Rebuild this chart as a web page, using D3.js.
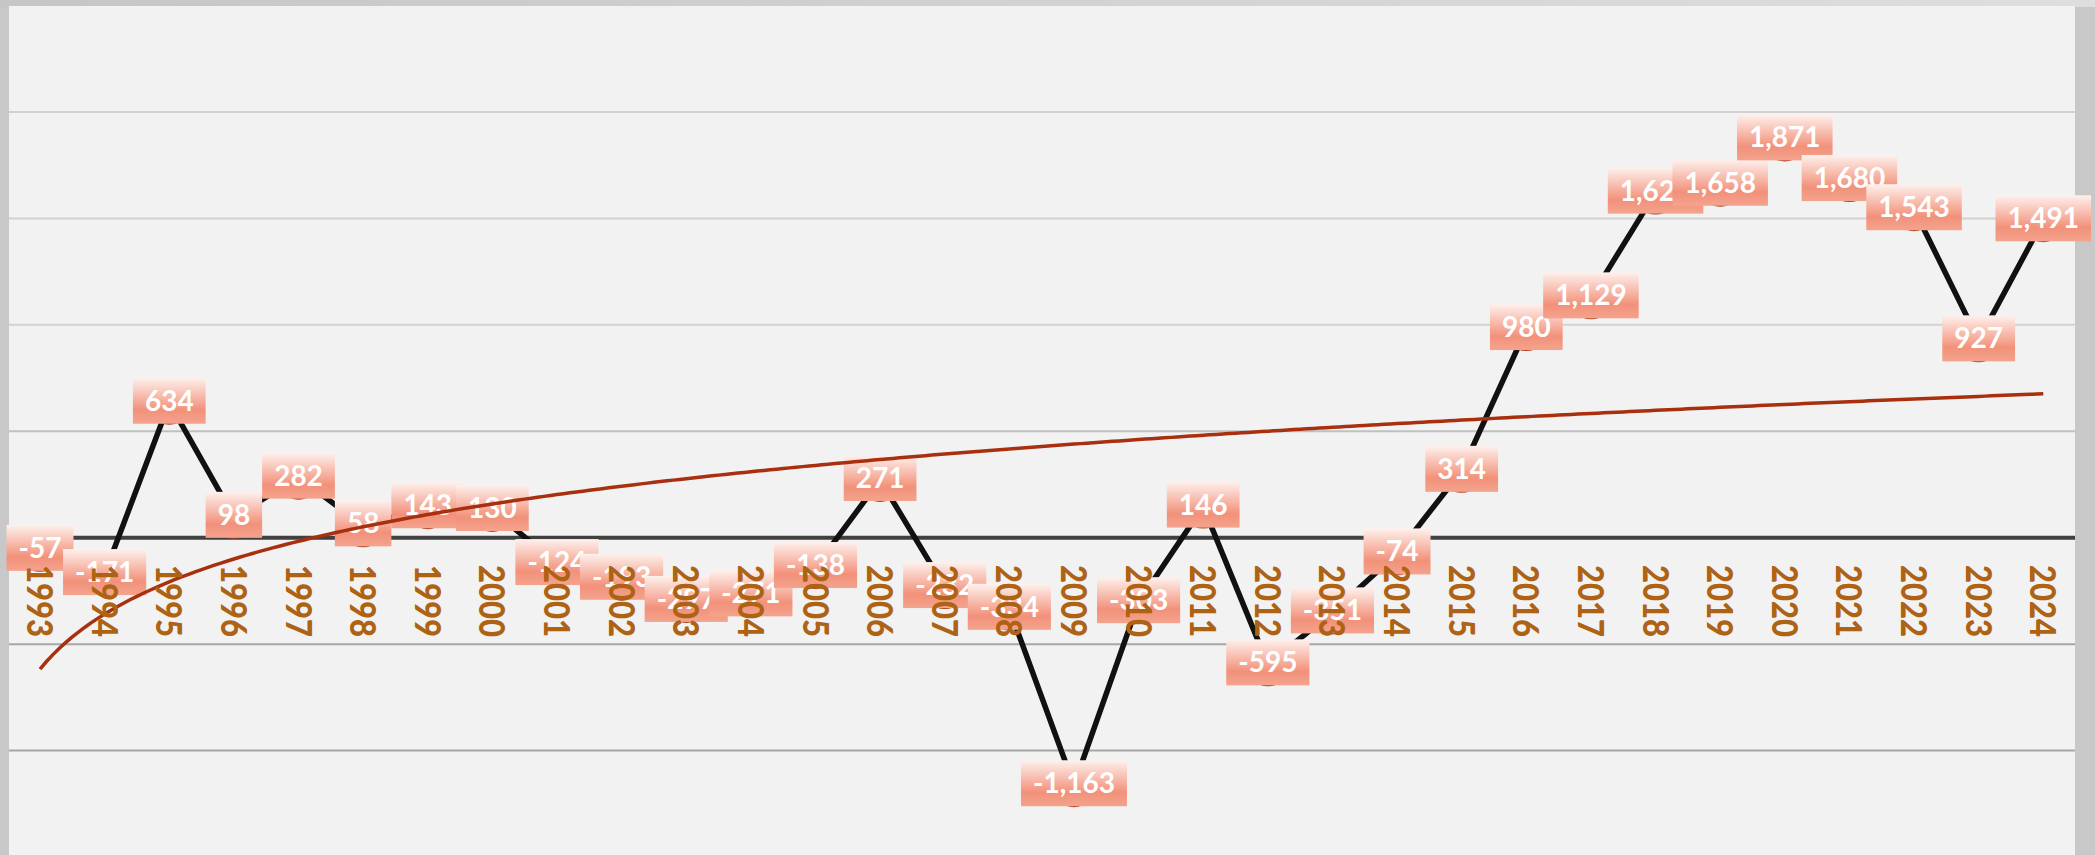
<!DOCTYPE html>
<html lang="en">
<head>
<meta charset="utf-8">
<style>
  body { margin: 0; background: #c8c8c8; overflow: hidden; }
  svg { display: block; }
  .year { font-family: Lato, sans-serif; font-weight: 900; font-size: 36px; fill: #ad6214; }
  .lbl text { font-family: Lato, sans-serif; font-weight: 700; font-size: 28px; fill: #ffffff; }
</style>
<script src="https://cdnjs.cloudflare.com/ajax/libs/d3/7.8.5/d3.min.js"></script>
</head>
<body>
<script>
// values
var years = ["1993","1994","1995","1996","1997","1998","1999","2000","2001","2002","2003",
             "2004","2005","2006","2007","2008","2009","2010","2011","2012","2013","2014",
             "2015","2016","2017","2018","2019","2020","2021","2022","2023","2024"];
var values = [-57, -171, 634, 98, 282, 58, 143, 130, -124, -193, -297,
              -271, -138, 271, -232, -334, -1163, -303, 146, -595, -351, -74,
              314, 980, 1129, 1621, 1658, 1871, 1680, 1543, 927, 1491];
var gridValues = [-1000, -500, 500, 1000, 1500, 2000];

var width = 2095,
    height = 855;

var svg = d3.select("body").append("svg")
  .attr("width", width)
  .attr("height", height);

var defs = svg.append("defs");

var topGrad = defs.append("linearGradient").attr("id", "topGrad");
topGrad.append("stop").attr("offset", "0%").attr("stop-color", "#c6c6c6");
topGrad.append("stop").attr("offset", "100%").attr("stop-color", "#dedede");

var lblGrad = defs.append("linearGradient").attr("id", "lblGrad")
  .attr("x1", 0).attr("y1", 0).attr("x2", 0).attr("y2", 1);
lblGrad.append("stop").attr("offset", "0%").attr("stop-color", "#fef1ed");
lblGrad.append("stop").attr("offset", "70%").attr("stop-color", "#f2917a");
lblGrad.append("stop").attr("offset", "100%").attr("stop-color", "#f4a38d");

// frame + plot background
svg.append("rect").attr("x", 0).attr("y", 0).attr("width", width).attr("height", 7)
  .attr("fill", "url(#topGrad)");
svg.append("rect").attr("x", 9).attr("y", 6).attr("width", 2066).attr("height", height - 6)
  .attr("fill", "#f2f2f2");

var x = d3.scalePoint()
  .domain(years)
  .range([7.7, 2075.6])
  .padding(0.5);

var y = d3.scaleLinear()
  .domain([-1500, 2500])
  .range([857, 5.5]);

// gridlines
svg.append("g").selectAll("line")
  .data(gridValues)
  .enter().append("line")
  .attr("x1", 9).attr("x2", 2075)
  .attr("y1", function(d) { return y(d); })
  .attr("y2", function(d) { return y(d); })
  .attr("stroke", function(d) { return d < 0 ? "#a6a6a6" : (d == 500 ? "#c0c0c0" : "#d2d2d2"); })
  .attr("stroke-width", 2);

// zero line
svg.append("line")
  .attr("x1", 9).attr("x2", 2075)
  .attr("y1", y(0)).attr("y2", y(0))
  .attr("stroke", "#404040")
  .attr("stroke-width", 4);

// data line
var line = d3.line()
  .x(function(d, i) { return x(years[i]); })
  .y(function(d) { return y(d); });

svg.append("path")
  .datum(values)
  .attr("d", line)
  .attr("fill", "none")
  .attr("stroke", "#111111")
  .attr("stroke-width", 5.5)
  .attr("stroke-linejoin", "round");

// markers
svg.append("g").selectAll("circle")
  .data(values)
  .enter().append("circle")
  .attr("cx", function(d, i) { return x(years[i]); })
  .attr("cy", function(d) { return y(d); })
  .attr("r", 22)
  .attr("fill", "#b03c1a");

// data labels
var fmt = d3.formatLocale({decimal: ".", thousands: ",", grouping: [3], currency: ["$", ""], minus: "-"}).format(",");

var lbl = svg.append("g").selectAll("g")
  .data(values)
  .enter().append("g")
  .attr("class", "lbl")
  .attr("transform", function(d, i) { return "translate(" + x(years[i]) + "," + (y(d) - 2) + ")"; });

lbl.append("rect").attr("fill", "url(#lblGrad)");
lbl.append("text")
  .attr("text-anchor", "middle")
  .attr("y", 10)
  .text(function(d) { return fmt(d); });

lbl.each(function() {
  var g = d3.select(this);
  var w = g.select("text").node().getComputedTextLength() + 24;
  g.select("rect")
    .attr("x", -w / 2).attr("y", -23)
    .attr("width", w).attr("height", 46);
});

// logarithmic trendline, least squares on ln(index)
var n = values.length;
var lx = values.map(function(d, i) { return Math.log(i + 1); });
var mx = d3.mean(lx), my = d3.mean(values);
var sxy = d3.sum(values, function(d, i) { return (lx[i] - mx) * (d - my); });
var sxx = d3.sum(lx, function(v) { return (v - mx) * (v - mx); });
var b = sxy / sxx, a = my - b * mx;

var xi = d3.scaleLinear().domain([1, n]).range([x(years[0]), x(years[n - 1])]);
var trend = d3.range(1, n + 0.001, 0.1).map(function(t) { return [xi(t), y(a + b * Math.log(t))]; });

svg.append("path")
  .datum(trend)
  .attr("d", d3.line())
  .attr("fill", "none")
  .attr("stroke", "#a8300f")
  .attr("stroke-width", 3.5);

// category labels
svg.append("g").selectAll("text")
  .data(years)
  .enter().append("text")
  .attr("class", "year")
  .attr("transform", function(d) { return "translate(" + x(d) + ",565) rotate(90)"; })
  .attr("dy", "0.36em")
  .attr("textLength", 72)
  .attr("lengthAdjust", "spacingAndGlyphs")
  .text(function(d) { return d; });
</script>
</body>
</html>
